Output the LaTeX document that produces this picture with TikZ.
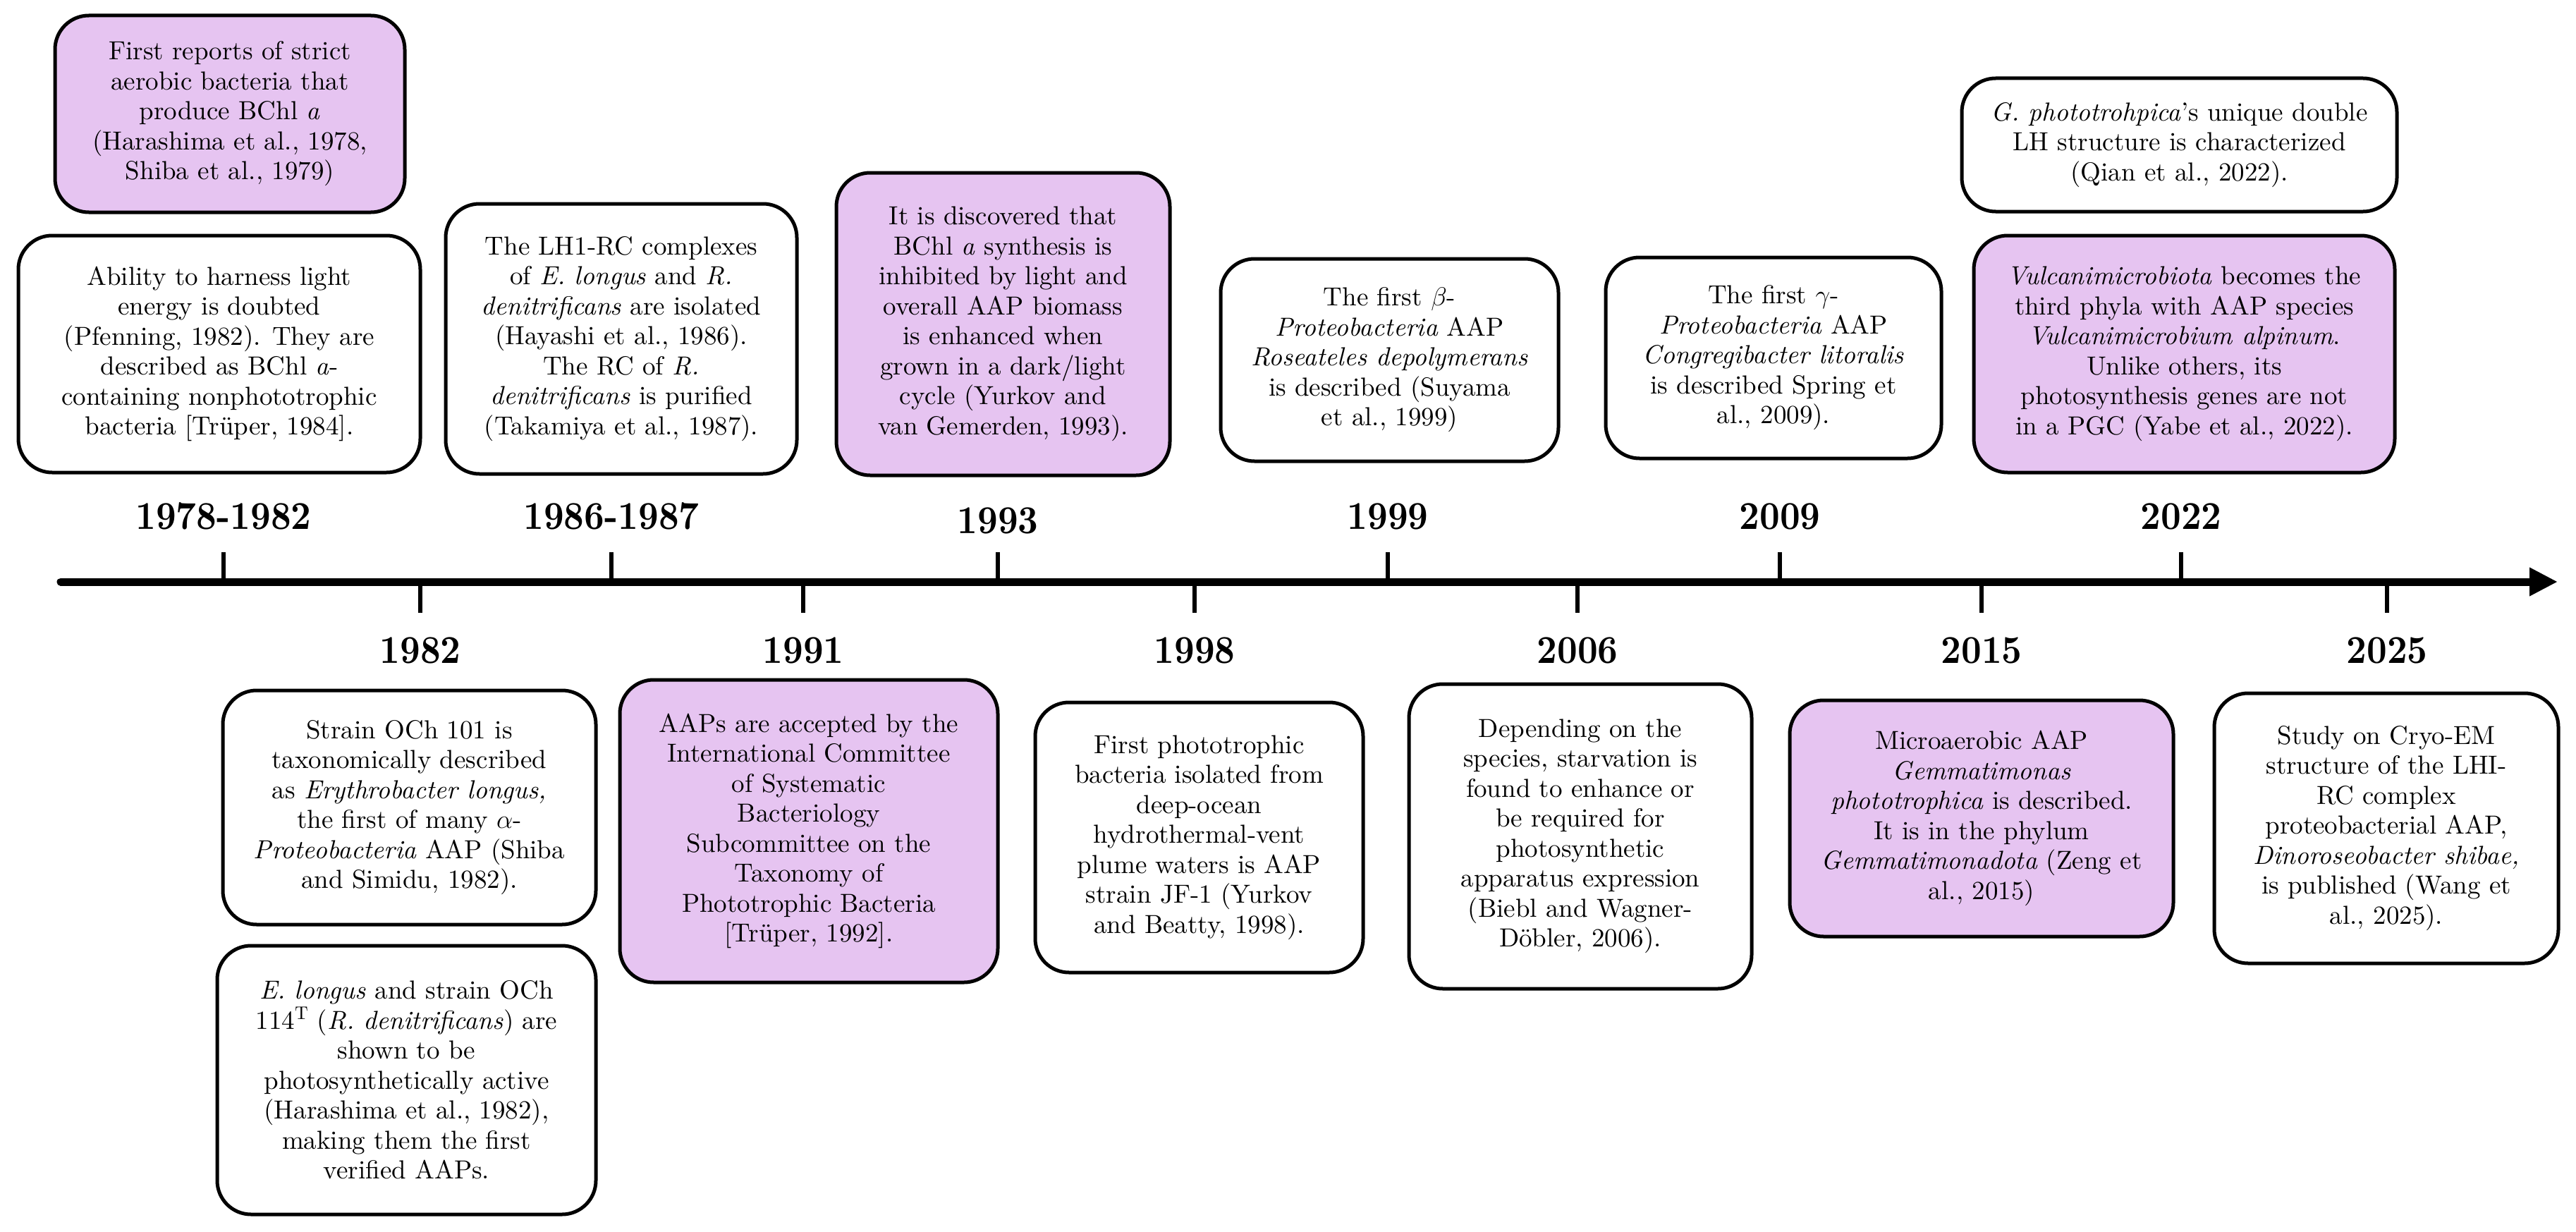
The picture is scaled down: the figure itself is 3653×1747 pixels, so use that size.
\RequirePackage{fix-cm}
\documentclass[tikz,border=0pt]{standalone}
\usepackage{fontspec}
\setmainfont{lmroman10-regular.otf}[ItalicFont=lmroman10-italic.otf, BoldFont=lmroman10-bold.otf, BoldItalicFont=lmroman10-bolditalic.otf]
\usepackage{graphicx}
\usetikzlibrary{arrows.meta}
\definecolor{lav}{RGB}{230,196,241}
\tikzset{
  ev/.style={draw=black, line width=5pt, rounded corners=48pt, align=center, inner sep=0pt, font=\fontsize{37}{42.5}\selectfont},
  evw/.style={ev, fill=white},
  evp/.style={ev, fill=lav},
  yr/.style={font=\fontsize{50}{60}\selectfont\bfseries, anchor=base, inner sep=0pt},
  tickmark/.style={line width=6pt}
}
\begin{document}
\begin{tikzpicture}[x=1pt,y=-1pt]
\useasboundingbox (0,0) rectangle (3653,1747);
\fill[white] (0,0) rectangle (3653,1747);

% timeline
\coordinate (tlA) at (86,825);
\coordinate (tlB) at (3627,825);
\draw[line width=11pt, line cap=round, -{Triangle[length=40pt,width=38pt]}] (tlA) -- (tlB);

% top ticks and labels
\foreach \n/\x/\yy/\lab in {a/317/750/1978-1982, b/867/750/1986-1987, c/1415/756/1993, d/1968/750/1999, e/2524/750/2009, f/3093/750/2022}{
  \coordinate (tk\n) at (\x,825);
  \draw[tickmark] (tk\n) -- ++(0,-42);
  \node[yr] (lab\n) at (\x,\yy) {\scalebox{1}[1.12]{\lab}};
}
% bottom ticks and labels
\foreach \n/\x/\lab in {g/596/1982, h/1139/1991, i/1694/1998, j/2237/2006, k/2810/2015, l/3385/2025}{
  \coordinate (tk\n) at (\x,825);
  \draw[tickmark] (tk\n) -- ++(0,44);
  \node[yr] (lab\n) at (\x,940) {\scalebox{1}[1.12]{\lab}};
}

% top row boxes
\node[evp, minimum width=496pt, minimum height=279pt] (first) at (326,161.5)
 {First reports of strict\\aerobic bacteria that\\produce BChl \textit{a}\\(Harashima et al., 1978,\\Shiba et al., 1979)};
\node[evw, minimum width=570pt, minimum height=336pt] (ability) at (311,502)
 {Ability to harness light\\energy is doubted\\(Pfenning, 1982). They are\\described as BChl \textit{a}-\\containing nonphototrophic\\bacteria [Trüper, 1984].};
\node[evw, minimum width=498pt, minimum height=383pt] (lh1) at (881,480.5)
 {The LH1-RC complexes\\of \textit{E. longus} and \textit{R.}\\\textit{denitrificans} are isolated\\(Hayashi et al., 1986).\\The RC of \textit{R.}\\\textit{denitrificans} is purified\\(Takamiya et al., 1987).};
\node[evp, minimum width=473pt, minimum height=429pt] (e1993) at (1422.5,459.5)
 {It is discovered that\\BChl \textit{a} synthesis is\\inhibited by light and\\overall AAP biomass\\is enhanced when\\grown in a dark/light\\cycle (Yurkov and\\van Gemerden, 1993).};
\node[evw, minimum width=479pt, minimum height=287pt] (e1999) at (1970.5,510.5)
 {The first $\beta$-\\\textit{Proteobacteria} AAP\\\textit{Roseateles depolymerans}\\is described (Suyama\\et al., 1999)};
\node[evw, minimum width=476pt, minimum height=285pt] (e2009) at (2515,507.5)
 {The first $\gamma$-\\\textit{Proteobacteria} AAP\\\textit{Congregibacter litoralis}\\is described Spring et\\al., 2009).};
\node[evw, minimum width=617pt, minimum height=189pt] (gph) at (3090.5,205.5)
 {\textit{G. phototrohpica}'s unique double\\LH structure is characterized\\(Qian et al., 2022).};
\node[evp, minimum width=597pt, minimum height=336pt] (vulc) at (3097.5,502)
 {\textit{Vulcanimicrobiota} becomes the\\third phyla with AAP species\\\textit{Vulcanimicrobium alpinum}.\\Unlike others, its\\photosynthesis genes are not\\in a PGC (Yabe et al., 2022).};

% bottom row boxes
\node[evw, minimum width=529pt, minimum height=332pt] (och) at (580.5,1145)
 {Strain OCh 101 is\\taxonomically described\\as \textit{Erythrobacter longus,}\\the first of many $\alpha$-\\\textit{Proteobacteria} AAP (Shiba\\and Simidu, 1982).};
\node[evw, minimum width=537pt, minimum height=381pt] (elong) at (576.5,1531.5)
 {\textit{E. longus} and strain OCh\\114\textsuperscript{T} (\textit{R. denitrificans}) are\\shown to be\\photosynthetically active\\(Harashima et al., 1982),\\making them the first\\verified AAPs.};
\node[evp, minimum width=536pt, minimum height=429pt] (e1991) at (1147,1178.5)
 {AAPs are accepted by the\\International Committee\\of Systematic\\Bacteriology\\Subcommittee on the\\Taxonomy of\\Phototrophic Bacteria\\{}[Trüper, 1992].};
\node[evw, minimum width=465pt, minimum height=383pt] (e1998) at (1700.5,1187.5)
 {First phototrophic\\bacteria isolated from\\deep-ocean\\hydrothermal-vent\\plume waters is AAP\\strain JF-1 (Yurkov\\and Beatty, 1998).};
\node[evw, minimum width=486pt, minimum height=432pt] (e2006) at (2241,1186)
 {Depending on the\\species, starvation is\\found to enhance or\\be required for\\photosynthetic\\apparatus expression\\(Biebl and Wagner-\\Döbler, 2006).};
\node[evp, minimum width=544pt, minimum height=335pt] (e2015) at (2810,1160.5)
 {Microaerobic AAP\\\textit{Gemmatimonas}\\\textit{phototrophica} is described.\\It is in the phylum\\\textit{Gemmatimonadota} (Zeng et\\al., 2015)};
\node[evw, minimum width=488pt, minimum height=383pt] (e2025) at (3384,1174.5)
 {Study on Cryo-EM\\structure of the LHI-\\RC complex\\proteobacterial AAP,\\\textit{Dinoroseobacter shibae,}\\is published (Wang et\\al., 2025).};
\end{tikzpicture}
\end{document}
